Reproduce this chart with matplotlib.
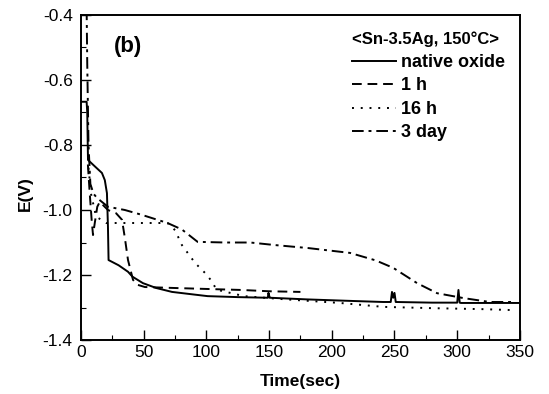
import matplotlib
matplotlib.use("Agg")
import matplotlib.pyplot as plt
from matplotlib.ticker import MultipleLocator

# Data (time in s, potential in V)

native_t = [0, 4.5, 5, 5.6, 10, 16.7, 19, 20.7, 21.5, 22, 30, 37.5, 41, 49.4, 60, 72.6,
            90, 101, 125, 149, 149.5, 150.5, 151, 180, 210, 241, 247, 248, 249, 250, 251,
            280, 300, 301, 302, 303, 320, 350]
native_e = [-0.667, -0.667, -0.70, -0.846, -0.862, -0.886, -0.908, -0.948, -1.05, -1.154,
            -1.17, -1.19, -1.205, -1.225, -1.24, -1.252, -1.26, -1.265, -1.268, -1.27,
            -1.255, -1.27, -1.27, -1.275, -1.279, -1.283, -1.283, -1.252, -1.27, -1.255,
            -1.283, -1.285, -1.285, -1.246, -1.285, -1.286, -1.286, -1.286]

h1_t = [5.5, 7, 8.5, 9.6, 11, 13, 15, 21.5, 28, 32.7, 35, 37.5, 41.5, 45, 51, 75, 101,
        128, 150, 175]
h1_e = [-0.86, -0.95, -1.03, -1.077, -1.04, -0.99, -0.975, -1.0, -1.01, -1.03, -1.086,
        -1.154, -1.215, -1.23, -1.237, -1.24, -1.243, -1.246, -1.25, -1.252]

h16_t = [6, 8, 12, 20, 24.7, 48.6, 69, 75, 80.5, 91, 99, 104.5, 108, 130, 160, 206.5,
         241, 280, 320, 345]
h16_e = [-0.87, -0.95, -1.02, -1.04, -1.04, -1.04, -1.04, -1.062, -1.108, -1.163, -1.194,
         -1.22, -1.245, -1.265, -1.274, -1.286, -1.298, -1.302, -1.305, -1.308]

d3_t = [4.5, 5, 6, 7.5, 10, 12.8, 21.5, 35, 48.6, 69, 80.5, 93, 115, 135, 155, 181, 214.5,
        235, 249, 268, 284, 305, 326, 344]
d3_e = [-0.38, -0.55, -0.80, -0.92, -0.95, -0.963, -0.99, -1.0, -1.015, -1.04, -1.06, -1.098,
        -1.10, -1.10, -1.108, -1.117, -1.132, -1.155, -1.178, -1.225, -1.256, -1.271, -1.283,
        -1.283]

LEGEND_TITLE = "<Sn-3.5Ag, 150\u00b0C>"
LABELS = ["native oxide", "1 h", "16 h", "3 day"]

plt.rcParams["font.family"] = ["Liberation Sans", "DejaVu Sans"]

fig = plt.figure(figsize=(5.49, 3.94), dpi=100)
ax = fig.add_axes([0.1475, 0.137, 0.7995, 0.825])

lw = 1.4
ax.plot(native_t, native_e, color="black", lw=lw, label=LABELS[0])
ax.plot(h1_t, h1_e, color="black", lw=lw, dashes=(5, 3), label=LABELS[1])
ax.plot(h16_t, h16_e, color="black", lw=lw, dashes=(1, 3.5), label=LABELS[2])
ax.plot(d3_t, d3_e, color="black", lw=lw, dashes=(6, 2.5, 1.5, 2.5), label=LABELS[3])

ax.set_xlim(0, 350)
ax.set_ylim(-1.4, -0.4)
ax.xaxis.set_major_locator(MultipleLocator(50))
ax.xaxis.set_minor_locator(MultipleLocator(25))
ax.yaxis.set_major_locator(MultipleLocator(0.2))
ax.yaxis.set_minor_locator(MultipleLocator(0.1))
ax.yaxis.set_major_formatter(plt.FuncFormatter(lambda v, p: f"{v:.1f}"))
ax.tick_params(which="both", direction="in", top=False, right=False, labelsize=12.5)
ax.tick_params(which="major", length=7, width=1)
ax.tick_params(which="minor", length=3.5, width=0.8)
ax.tick_params(axis="y", pad=6)
for s in ax.spines.values():
    s.set_linewidth(1.4)

ax.set_xlabel("Time(sec)", fontsize=12.5, fontweight="bold", labelpad=10)
ax.set_ylabel("E(V)", fontsize=12.5, fontweight="bold")
ax.yaxis.set_label_coords(-0.11, 0.45)

ax.text(0.075, 0.886, "(b)", transform=ax.transAxes, fontsize=16, fontweight="bold")

leg = ax.legend(loc="upper right", frameon=False, title=LEGEND_TITLE,
                prop={"weight": "bold", "size": 13}, handlelength=2.4,
                handletextpad=0.3, labelspacing=0.36, borderaxespad=0,
                borderpad=0, bbox_to_anchor=(0.966, 0.948))
leg.get_title().set_fontweight("bold")
leg.get_title().set_fontsize(12)
leg._legend_box.align = "left"

fig.savefig("out.png", dpi=100)
